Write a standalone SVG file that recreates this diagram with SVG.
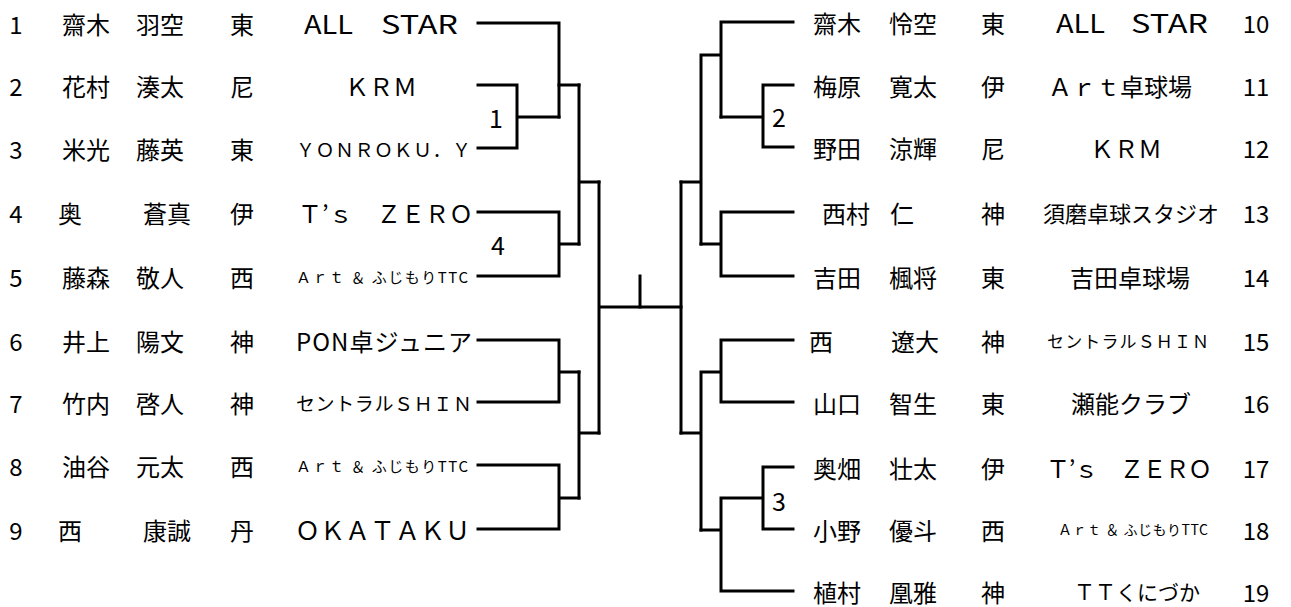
<svg xmlns="http://www.w3.org/2000/svg" width="1291" height="607" viewBox="0 0 1291 607">
<style>
text { font-family: "Noto Sans CJK JP", "Noto Sans", sans-serif; font-size: 24px; fill: #000; dominant-baseline: central; }
.m { text-anchor: middle; }
.s15 { font-size: 15px; }
.s14 { font-size: 14px; }
.s17 { font-size: 17px; }
.s19 { font-size: 19px; }
.s21 { font-size: 21px; }
.s22 { font-size: 22px; }
.s25 { font-size: 25px; }
.lbl { font-size: 25px; text-anchor: middle; }
.w { stroke: #000; stroke-width: 3; fill: none; stroke-linecap: square; stroke-linejoin: miter; }
</style>
<rect width="1291" height="607" fill="#fff"/>
<g id="connectors" class="w">
<path d="M478 23 H559 V117"/>
<path d="M478 85 H517 V148 H478 M517 117 H559"/>
<path d="M559 85 H579"/>
<path d="M478 212 H559 V276 H478 M559 244 H579"/>
<path d="M579 85 V244 M579 182 H599"/>
<path d="M478 340 H559 V402 H478 M559 372 H579"/>
<path d="M478 465 H559 V529 H478 M559 498 H579"/>
<path d="M579 372 V498 M579 433 H599"/>
<path d="M599 182 V433 M599 307 H681"/>
<path d="M640 276 V307"/>
<path d="M681 182 V433"/>
<path d="M681 182 H701 M701 55 V244 M701 55 H721 M721 22 V117 M721 22 H793"/>
<path d="M793 85 H763 V147 H793 M721 117 H763"/>
<path d="M701 244 H721 M721 212 V276 M721 212 H793 M721 276 H793"/>
<path d="M681 433 H701 M701 372 V530 M701 372 H721 M721 340 V402 M721 340 H793 M721 402 H793"/>
<path d="M701 530 H721 M721 498 V591 M721 591 H793 M721 498 H763 M763 467 V529 M763 467 H793 M763 529 H793"/>
</g>
<g id="match-labels">
<text class="lbl" x="496" y="117">1</text>
<text class="lbl" x="498" y="244">4</text>
<text class="lbl" x="779" y="116">2</text>
<text class="lbl" x="779" y="500">3</text>
</g>
<g id="p1"><text class="m" x="16" y="23">1</text><text x="62" y="23">齋木</text><text x="136" y="23">羽空</text><text class="m" x="242" y="23">東</text><text class="s25" y="23"><tspan x="304" textLength="49" lengthAdjust="spacingAndGlyphs">ALL</tspan><tspan x="381" textLength="77" lengthAdjust="spacingAndGlyphs">STAR</tspan></text></g>
<g id="p2"><text class="m" x="16" y="85">2</text><text x="62" y="85">花村</text><text x="136" y="85">湊太</text><text class="m" x="242" y="85">尼</text><text class="m" x="381" y="85">ＫＲＭ</text></g>
<g id="p3"><text class="m" x="16" y="148">3</text><text x="62" y="148">米光</text><text x="136" y="148">藤英</text><text class="m" x="242" y="148">東</text><text class="s19" x="296" y="148" textLength="175" lengthAdjust="spacing">ＹＯＮＲＯＫＵ．Ｙ</text></g>
<g id="p4"><text class="m" x="16" y="212">4</text><text x="58" y="212">奥</text><text x="143" y="212">蒼真</text><text class="m" x="242" y="212">伊</text><text x="298" y="212" textLength="175" lengthAdjust="spacing">Ｔ’ｓ　ＺＥＲＯ</text></g>
<g id="p5"><text class="m" x="16" y="276">5</text><text x="62" y="276">藤森</text><text x="136" y="276">敬人</text><text class="m" x="242" y="276">西</text><text class="s15" x="296" y="276" textLength="172" lengthAdjust="spacing">Ａｒｔ ＆ ふじもりTTC</text></g>
<g id="p6"><text class="m" x="16" y="340">6</text><text x="62" y="340">井上</text><text x="136" y="340">陽文</text><text class="m" x="242" y="340">神</text><text x="296" y="340" textLength="176" lengthAdjust="spacing">PON卓ジュニア</text></g>
<g id="p7"><text class="m" x="16" y="402">7</text><text x="62" y="402">竹内</text><text x="136" y="402">啓人</text><text class="m" x="242" y="402">神</text><text class="s19" x="296" y="402" textLength="176" lengthAdjust="spacing">セントラルＳＨＩＮ</text></g>
<g id="p8"><text class="m" x="16" y="465">8</text><text x="62" y="465">油谷</text><text x="136" y="465">元太</text><text class="m" x="242" y="465">西</text><text class="s15" x="296" y="465" textLength="172" lengthAdjust="spacing">Ａｒｔ ＆ ふじもりTTC</text></g>
<g id="p9"><text class="m" x="16" y="529">9</text><text x="58" y="529">西</text><text x="143" y="529">康誠</text><text class="m" x="242" y="529">丹</text><text class="s25" x="295" y="529" textLength="175" lengthAdjust="spacing">ＯＫＡＴＡＫＵ</text></g>
<g id="p10"><text x="813" y="22">齋木</text><text x="889" y="22">怜空</text><text class="m" x="993" y="22">東</text><text class="s25" y="22"><tspan x="1056" textLength="49" lengthAdjust="spacingAndGlyphs">ALL</tspan><tspan x="1131" textLength="77" lengthAdjust="spacingAndGlyphs">STAR</tspan></text><text class="m" x="1256" y="22">10</text></g>
<g id="p11"><text x="813" y="85">梅原</text><text x="889" y="85">寛太</text><text class="m" x="993" y="85">伊</text><text class="m" x="1120" y="85">Ａｒｔ卓球場</text><text class="m" x="1256" y="85">11</text></g>
<g id="p12"><text x="813" y="147">野田</text><text x="889" y="147">涼輝</text><text class="m" x="993" y="147">尼</text><text class="m" x="1126" y="147">ＫＲＭ</text><text class="m" x="1256" y="147">12</text></g>
<g id="p13"><text x="822" y="212">西村</text><text x="890" y="212">仁</text><text class="m" x="993" y="212">神</text><text class="m s22" x="1131" y="212">須磨卓球スタジオ</text><text class="m" x="1256" y="212">13</text></g>
<g id="p14"><text x="813" y="276">吉田</text><text x="889" y="276">楓将</text><text class="m" x="993" y="276">東</text><text class="m" x="1130" y="276">吉田卓球場</text><text class="m" x="1256" y="276">14</text></g>
<g id="p15"><text x="809" y="340">西</text><text x="891" y="340">遼大</text><text class="m" x="993" y="340">神</text><text class="s17" x="1047" y="340" textLength="162" lengthAdjust="spacing">セントラルＳＨＩＮ</text><text class="m" x="1256" y="340">15</text></g>
<g id="p16"><text x="813" y="402">山口</text><text x="889" y="402">智生</text><text class="m" x="993" y="402">東</text><text class="m" x="1131" y="402">瀬能クラブ</text><text class="m" x="1256" y="402">16</text></g>
<g id="p17"><text x="813" y="467">奥畑</text><text x="889" y="467">壮太</text><text class="m" x="993" y="467">伊</text><text x="1046" y="467" textLength="166" lengthAdjust="spacing">Ｔ’ｓ　ＺＥＲＯ</text><text class="m" x="1256" y="467">17</text></g>
<g id="p18"><text x="813" y="529">小野</text><text x="889" y="529">優斗</text><text class="m" x="993" y="529">西</text><text class="s14" x="1058" y="529" textLength="150" lengthAdjust="spacing">Ａｒｔ ＆ ふじもりTTC</text><text class="m" x="1256" y="529">18</text></g>
<g id="p19"><text x="813" y="591">植村</text><text x="889" y="591">凰雅</text><text class="m" x="993" y="591">神</text><text class="m s21" x="1137" y="591">ＴＴくにづか</text><text class="m" x="1256" y="591">19</text></g>
</svg>
